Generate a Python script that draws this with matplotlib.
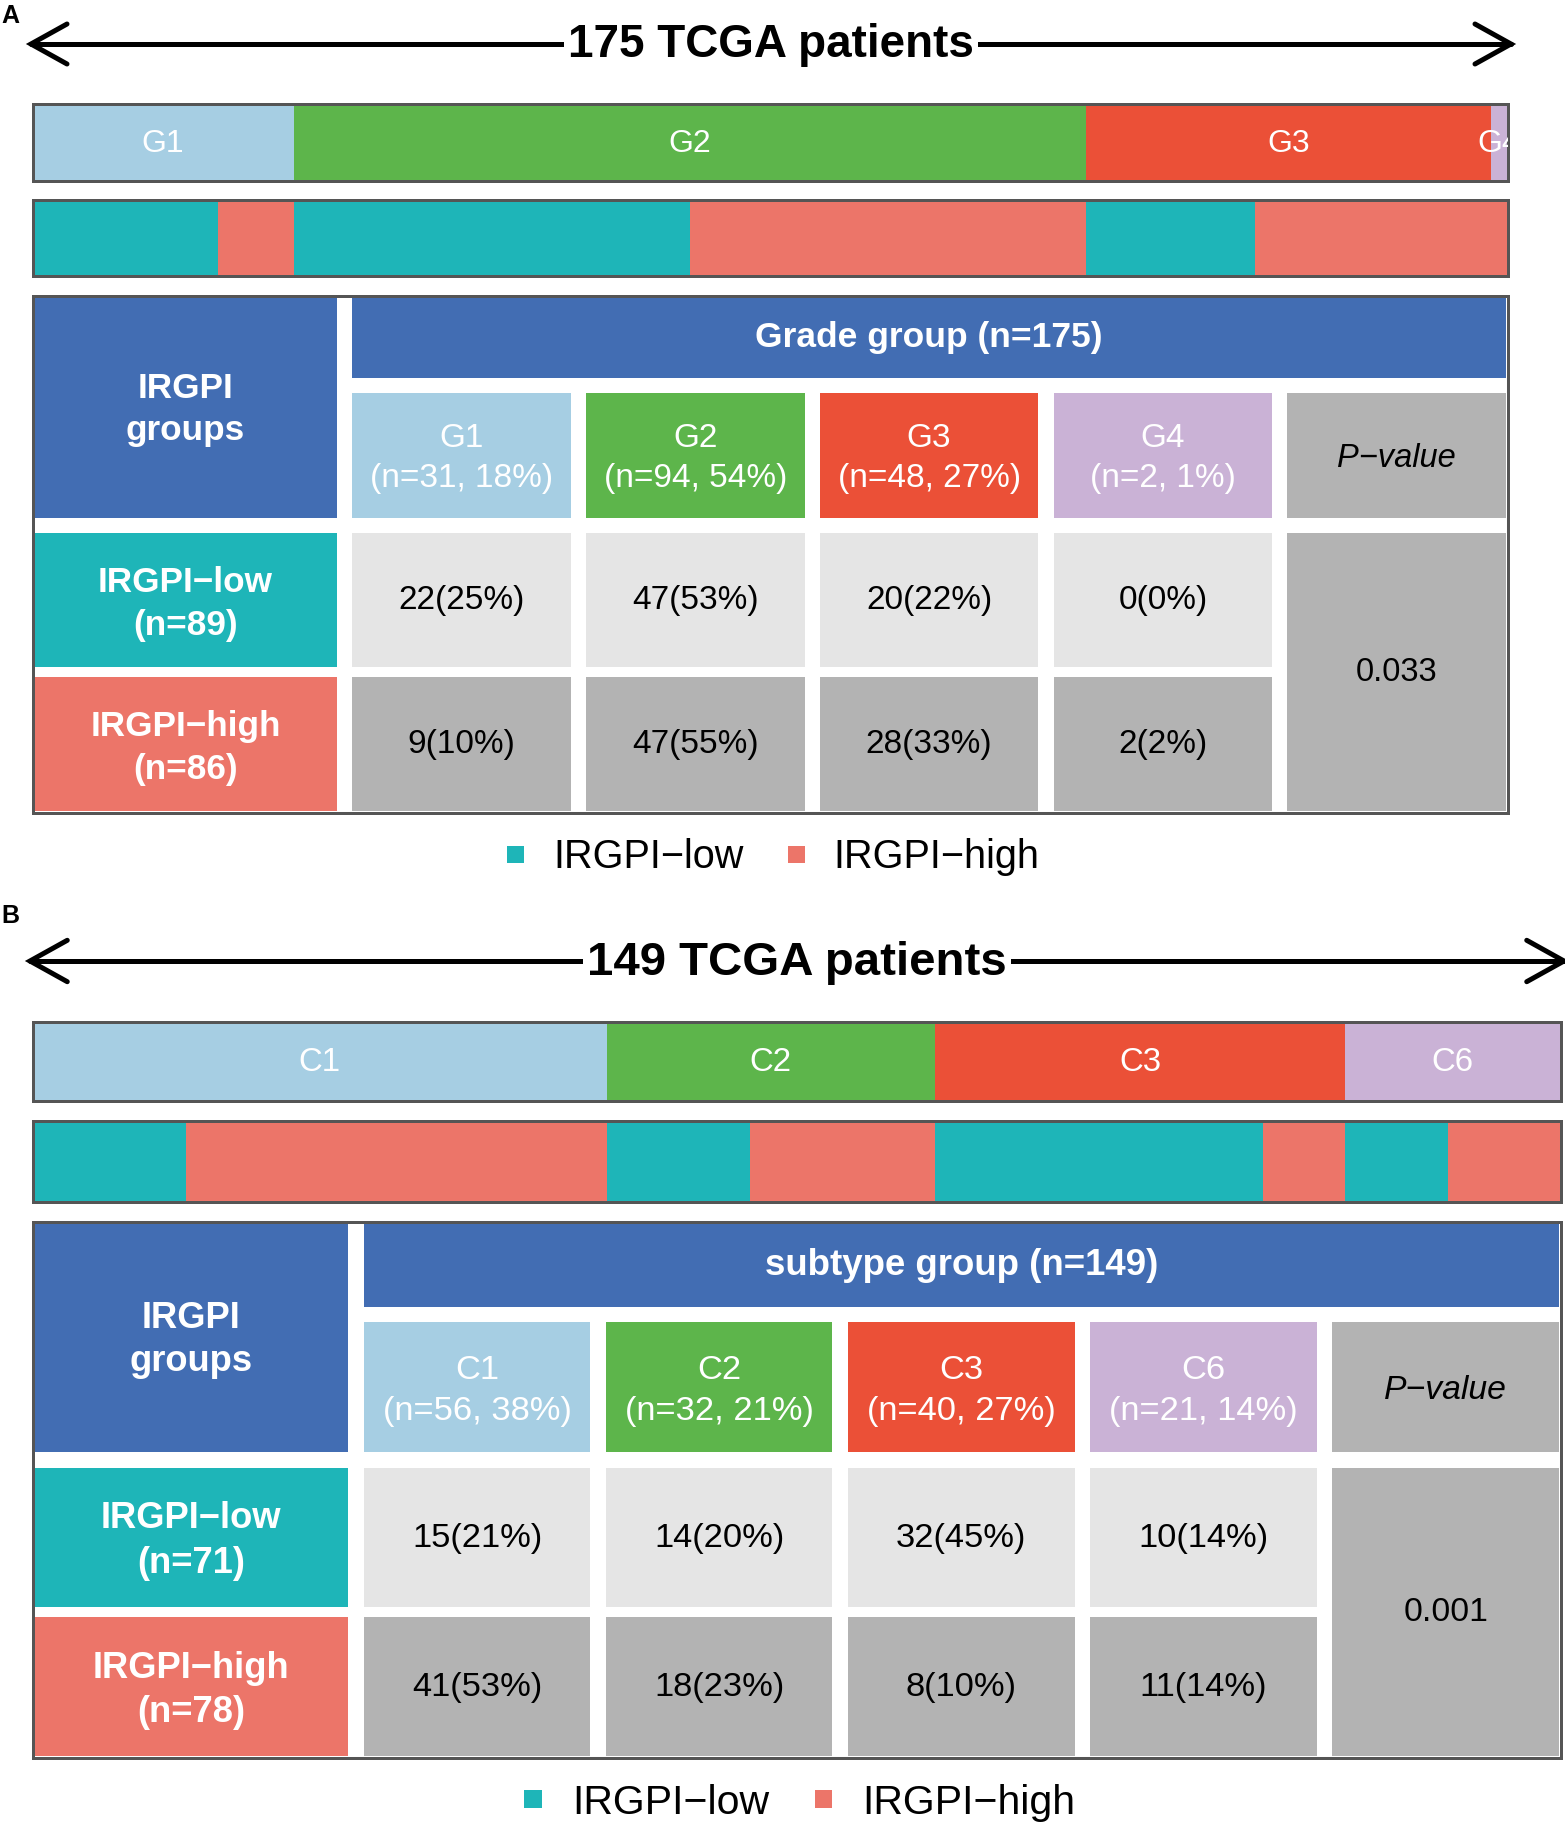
import matplotlib
matplotlib.use('Agg')
import matplotlib.pyplot as plt
from matplotlib.patches import Rectangle

plt.rcParams['font.family'] = ['Liberation Sans', 'DejaVu Sans']

# panel A: tumour grade
grades = ['G1', 'G2', 'G3', 'G4']
grade_low = [22, 47, 20, 0]
grade_high = [9, 47, 28, 2]
grade_pct = [18, 54, 27, 1]
grade_low_pct = [25, 53, 22, 0]
grade_high_pct = [10, 55, 33, 2]
grade_p = '0.033'

# panel B: immune subtype
subtypes = ['C1', 'C2', 'C3', 'C6']
sub_low = [15, 14, 32, 10]
sub_high = [41, 18, 8, 11]
sub_pct = [38, 21, 27, 14]
sub_low_pct = [21, 20, 45, 14]
sub_high_pct = [53, 23, 10, 14]
sub_p = '0.001'

group_colors = ['#A6CEE3', '#5DB54B', '#EB5037', '#CAB2D6']
LOW = '#1EB5B8'
HIGH = '#EC7569'
BLUE = '#426DB3'
EDGE = '#555555'
LIGHT = '#E5E5E5'
DARK = '#B3B3B3'

W_PX, H_PX = 1565, 1822
PX = 100 / 72  # pixels per point

fig = plt.figure(figsize=(W_PX / 100, H_PX / 100), dpi=100)
ax = fig.add_axes([0, 0, 1, 1])
ax.set_xlim(0, W_PX)
ax.set_ylim(H_PX, 0)
ax.axis('off')


def txt(x, yc, s, size, ha='center', **kw):
    # yc = vertical centre of capital letters
    ax.text(x, yc + 0.358 * size * PX, s, fontsize=size, ha=ha, va='baseline', **kw)


def bar_axes(x0, x1, y0, y1, counts, colors, labels=None, fs=23):
    b = fig.add_axes([(x0 - 1.5) / W_PX, 1 - (y1 - 1.5) / H_PX,
                      (x1 - x0 + 3) / W_PX, (y1 - y0 - 3) / H_PX])
    total = sum(counts)
    left = 0
    for i, n in enumerate(counts):
        b.barh(0.5, n, left=left, height=1, color=colors[i], linewidth=0)
        if labels is not None:
            b.text(left + n / 2, 0.52, labels[i], color='white', fontsize=fs,
                   ha='center', va='center_baseline', clip_on=True)
        left += n
    b.set_xlim(0, total)
    b.set_ylim(0, 1)
    b.set_xticks([])
    b.set_yticks([])
    for sp in b.spines.values():
        sp.set_color(EDGE)
        sp.set_linewidth(3 / PX)


def draw_panel(letter, letter_y, title, cats, low, high, pct, low_pct, high_pct,
               pval, header, x0, x1, arrow, bar1, bar2, table, leg_y, s=1.0):
    # panel letter
    txt(1, letter_y, letter, 18, ha='left', fontweight='bold')

    # double arrow with title
    tl, tr, ay = arrow
    akw = dict(color='black', lw=5 / PX, solid_capstyle='round', solid_joinstyle='miter')
    ax.plot([tl, tr], [ay, ay], **akw)
    ax.plot([tl + 36 * s, tl, tl + 36 * s], [ay - 20 * s, ay, ay + 20 * s], **akw)
    ax.plot([tr - 36 * s, tr, tr - 36 * s], [ay - 20 * s, ay, ay + 20 * s], **akw)
    ax.text((tl + tr) / 2, ay - 3 + 0.358 * 33 * s * PX, title, fontsize=33 * s,
            fontweight='bold', ha='center', va='baseline',
            bbox=dict(facecolor='white', edgecolor='none', pad=3))

    # group bar and risk bar
    totals = [a + b for a, b in zip(low, high)]
    bar_axes(x0, x1, bar1[0], bar1[1], totals, group_colors, cats, fs=23 * s)
    split = []
    split_cols = []
    for a, b in zip(low, high):
        split += [a, b]
        split_cols += [LOW, HIGH]
    bar_axes(x0, x1, bar2[0], bar2[1], split, split_cols)

    # table
    ty0, ty1 = table[0] + 3, table[1] - 3
    ax.add_patch(Rectangle((x0 - 1.5, ty0 - 1.5), x1 - x0 + 3, ty1 - ty0 + 3,
                           facecolor='none', edgecolor=EDGE, lw=3 / PX, zorder=5))
    W = x1 - x0
    H = ty1 - ty0
    g = 0.0102 * W
    lw_col = 0.206 * W
    c = (W - lw_col - 5 * g) / 5
    cx = [x0 + lw_col + g + i * (c + g) for i in range(5)]
    fr = [0.157, 0.029, 0.244, 0.029, 0.261, 0.019, 0.261]
    ys = [ty0]
    for f in fr:
        ys.append(ys[-1] + f * H)
    hdr = (ys[0], ys[1])
    colh = (ys[2], ys[3])
    r1 = (ys[4], ys[5])
    r2 = (ys[6], ys[7])

    def cell(xa, xb, yr, color):
        ax.add_patch(Rectangle((xa, yr[0]), xb - xa, yr[1] - yr[0],
                               facecolor=color, edgecolor='none'))

    bold = 25.3 * s
    reg = 24 * s
    # left column
    cell(x0, x0 + lw_col, (hdr[0], colh[1]), BLUE)
    lc = x0 + lw_col / 2
    yc = (hdr[0] + colh[1]) / 2
    txt(lc, yc - 22 * s, 'IRGPI', bold, color='white', fontweight='bold')
    txt(lc, yc + 20 * s, 'groups', bold, color='white', fontweight='bold')
    rows = [(r1, LOW, 'IRGPI\u2212low', sum(low)), (r2, HIGH, 'IRGPI\u2212high', sum(high))]
    for yr, col, name, n in rows:
        cell(x0, x0 + lw_col, yr, col)
        yc = (yr[0] + yr[1]) / 2
        txt(lc, yc - 21 * s, name, bold, color='white', fontweight='bold')
        txt(lc, yc + 22 * s, f'(n={n})', bold, color='white', fontweight='bold')

    # top header
    cell(cx[0], x1, hdr, BLUE)
    txt((cx[0] + x1) / 2, (hdr[0] + hdr[1]) / 2 - 3,
        f'{header} (n={sum(totals)})', 25.5 * s, color='white', fontweight='bold')

    # column headers and cells
    for i, name in enumerate(cats):
        xa, xb = cx[i], cx[i] + c
        xm = (xa + xb) / 2
        cell(xa, xb, colh, group_colors[i])
        yc = (colh[0] + colh[1]) / 2
        txt(xm, yc - 20 * s, name, reg, color='white')
        txt(xm, yc + 20 * s, f'(n={totals[i]}, {pct[i]}%)', reg, color='white')
        cell(xa, xb, r1, LIGHT)
        txt(xm, (r1[0] + r1[1]) / 2 - 2.5, f'{low[i]}({low_pct[i]}%)', reg, color='black')
        cell(xa, xb, r2, DARK)
        txt(xm, (r2[0] + r2[1]) / 2 - 2.5, f'{high[i]}({high_pct[i]}%)', reg, color='black')

    # p-value column
    xa = cx[4]
    cell(xa, x1, colh, DARK)
    txt((xa + x1) / 2, (colh[0] + colh[1]) / 2, 'P\u2212value', 23.5 * s,
        color='black', fontstyle='italic')
    cell(xa, x1, (r1[0], r2[1]), DARK)
    txt((xa + x1) / 2, (r1[0] + r2[1]) / 2 - 2.5, pval, 23.5 * s, color='black')

    # legend
    lcx = (x0 + x1) / 2
    for off, col, name in [(-263, LOW, 'IRGPI\u2212low'), (17.5, HIGH, 'IRGPI\u2212high')]:
        xs = lcx + off * s
        ax.add_patch(Rectangle((xs, leg_y - 8.5 * s), 17 * s, 17 * s,
                               facecolor=col, edgecolor='none'))
        txt(xs + 46 * s, leg_y, name, 28.5 * s, ha='left', color='black')


draw_panel('A', 14, '175 TCGA patients', grades, grade_low, grade_high, grade_pct,
           grade_low_pct, grade_high_pct, grade_p, 'Grade group',
           x0=34, x1=1506, arrow=(31, 1511, 44), bar1=(102, 182), bar2=(198, 277),
           table=(294, 814), leg_y=854, s=1.0)

draw_panel('B', 914, '149 TCGA patients', subtypes, sub_low, sub_high, sub_pct,
           sub_low_pct, sub_high_pct, sub_p, 'subtype group',
           x0=34, x1=1559, arrow=(30, 1564, 961), bar1=(1020, 1102), bar2=(1119, 1203),
           table=(1220, 1759), leg_y=1799, s=1.035)

fig.savefig('out.png', dpi=100, facecolor='white')
